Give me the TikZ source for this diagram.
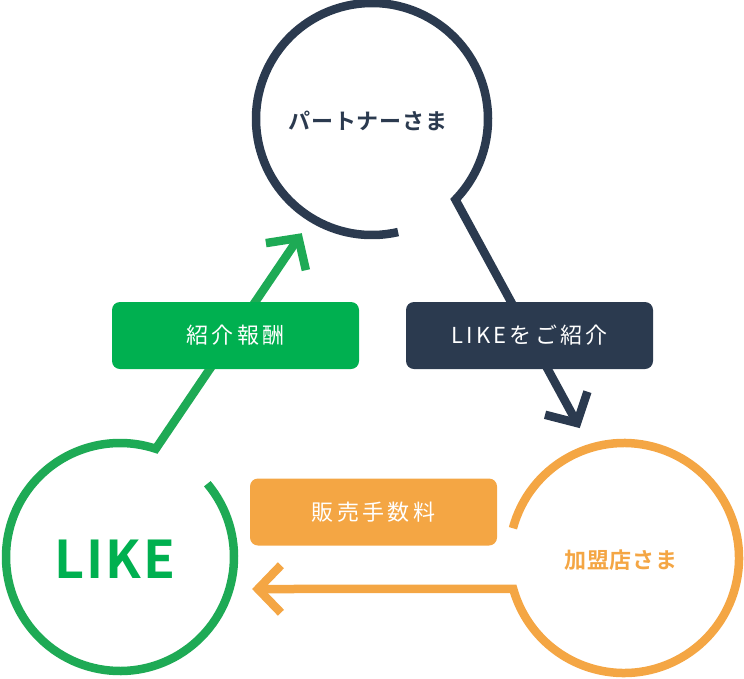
\documentclass[tikz,border=0pt]{standalone}
\usepackage{fontspec}
\newfontfamily\jp{Noto Sans CJK JP}
\newfontfamily\jpsp[LetterSpace=15]{Noto Sans CJK JP}
\newfontfamily\jpbold[LetterSpace=4]{Noto Sans CJK JP Bold}
\usetikzlibrary{calc}
\definecolor{navy}{HTML}{2B3A4F}
\definecolor{lgreen}{HTML}{1EAA55}
\definecolor{bgreen}{HTML}{00B050}
\definecolor{orng}{HTML}{F4A644}
\begin{document}
\begin{tikzpicture}[x=1pt,y=-1pt,
  ring/.style={line width=8.5pt, line cap=butt, line join=miter},
  lbl/.style={rounded corners=8pt, minimum width=247pt, minimum height=67pt, inner sep=0pt, text=white, font=\jpsp\fontsize{22}{26}\selectfont},
  ctext/.style={inner sep=0pt, font=\jpbold\fontsize{22}{26}\selectfont}]
\useasboundingbox (0,0) rectangle (744,678);
\coordinate (pc) at (372,119);
\coordinate (lc) at (120,557);
\coordinate (sc) at (624,558);
\coordinate (ptip) at (577,423);
\coordinate (ltip) at (298.5,238);
\coordinate (stip) at (258,589);
% partner ring and arrow
\draw[ring, navy] ($(pc)+(77:116)$) arc[start angle=77, end angle=404, radius=116] coordinate (pj) -- (ptip);
\draw[ring, navy] ($(ptip)!33pt!47:(pj)$) -- (ptip) -- ($(ptip)!33pt!-47:(pj)$);
% LIKE ring and arrow
\draw[ring, lgreen] ($(lc)+(-40:114)$) arc[start angle=-40, end angle=288.3, radius=114] coordinate (lj) -- (ltip);
\draw[ring, lgreen] ($(ltip)!33pt!47:(lj)$) -- (ltip) -- ($(ltip)!33pt!-47:(lj)$);
% shop ring and arrow
\draw[ring, orng] ($(sc)+(195:115)$) arc[start angle=195, end angle=524.4, radius=115] coordinate (sj) -- (stip);
\draw[ring, orng] ($(stip)!33pt!46:(sj)$) -- (stip) -- ($(stip)!33pt!-46:(sj)$);
% labels
\node[lbl, fill=bgreen] (reward) at (235.5,335.5) {紹介報酬};
\node[lbl, fill=navy] (intro) at (529.5,335.5) {LIKEをご紹介};
\node[lbl, fill=orng] (fee) at (373.5,512) {販売手数料};
\node[ctext, text=navy] (partner) at (368,121) {パートナーさま};
\node[ctext, text=bgreen, font=\jpbold\fontsize{52}{60}\selectfont] (like) at (115,559) {LIKE};
\node[ctext, text=orng] (shop) at (621,560) {加盟店さま};
\end{tikzpicture}
\end{document}
